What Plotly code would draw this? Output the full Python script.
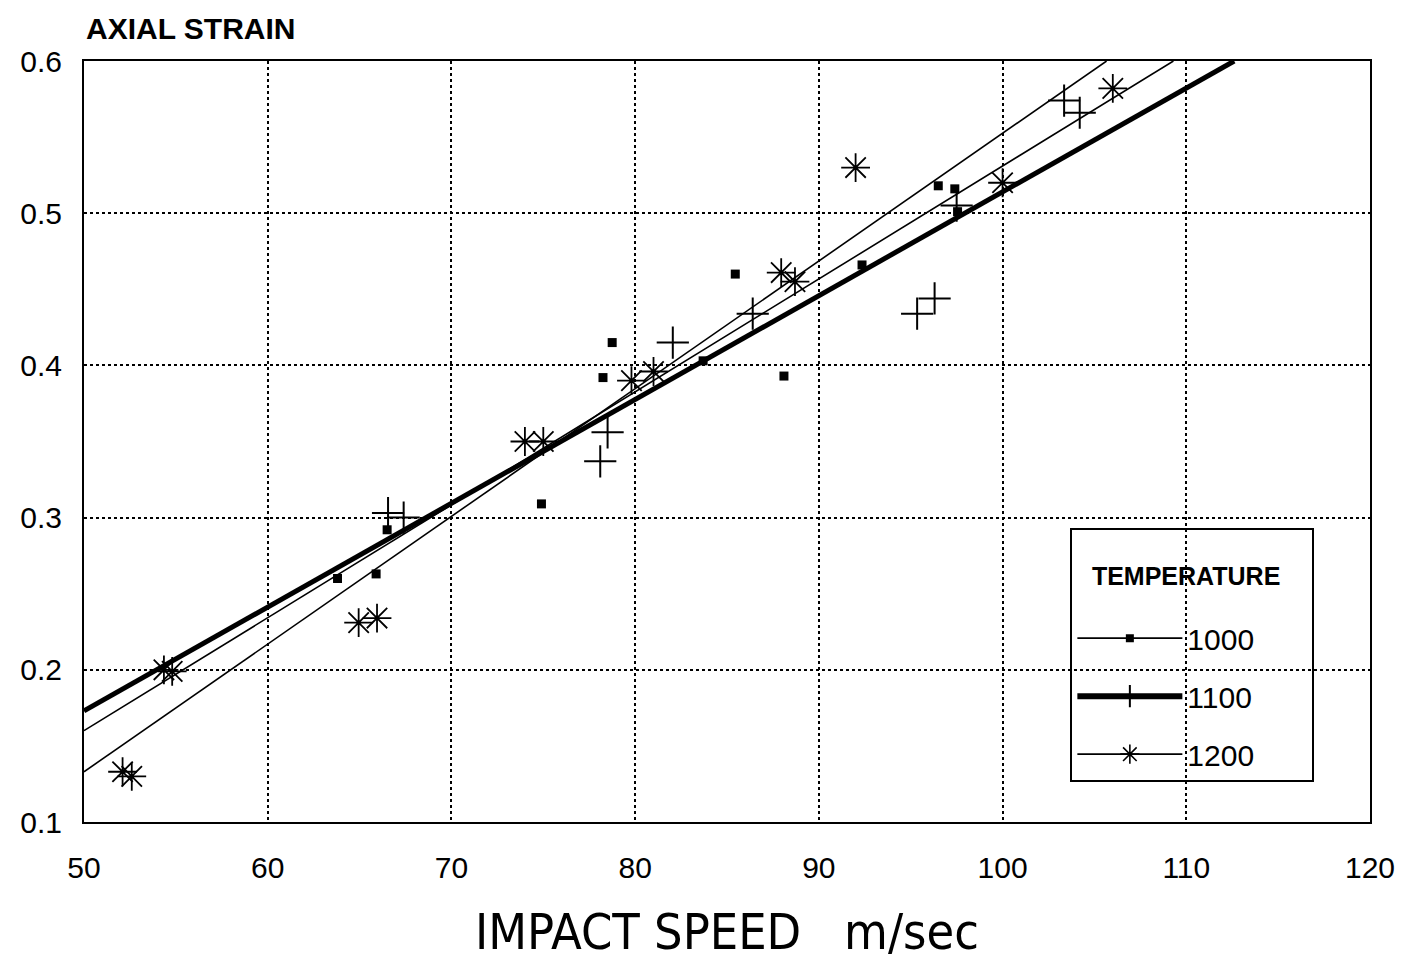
import plotly.graph_objects as go

# ---- data ----
temps = ["1000", "1100", "1200"]

speed_1000 = [63.8, 65.9, 66.5, 74.9, 78.25, 78.75, 83.7, 85.45, 88.1, 92.35, 96.5, 97.4, 97.55]
strain_1000 = [0.260, 0.263, 0.292, 0.309, 0.392, 0.415, 0.403, 0.460, 0.393, 0.466, 0.518, 0.516, 0.501]

speed_1100 = [66.55, 67.4, 78.1, 78.5, 82.05, 86.4, 95.35, 96.3, 97.5, 103.35, 104.2]
strain_1100 = [0.303, 0.300, 0.337, 0.356, 0.415, 0.434, 0.434, 0.444, 0.505, 0.574, 0.566]

speed_1200 = [52.1, 52.6, 54.35, 54.8, 64.95, 65.95, 74.0, 75.0, 79.8, 81.0, 87.95, 88.7, 92.0, 100.0, 106.0]
strain_1200 = [0.133, 0.130, 0.200, 0.199, 0.231, 0.234, 0.350, 0.350, 0.390, 0.396, 0.461, 0.455, 0.530, 0.520, 0.582]

# linear fits: strain = fit_at_50 + slope * (speed - 50)
fit_at_50 = [0.160, 0.173, 0.133]
fit_slope = [0.00742, 0.00682, 0.00839]

x_ticks = [50, 60, 70, 80, 90, 100, 110, 120]
y_ticks = [0.1, 0.2, 0.3, 0.4, 0.5, 0.6]
x_range = [50, 120]
y_range = [0.1, 0.6]

# ---- styles ----
line_widths = [1.6, 5, 1.6]
marker_styles = [
    dict(symbol="square", size=9, color="black"),
    dict(symbol="cross-thin-open", size=23, color="black", line=dict(width=2, color="black")),
    dict(symbol="asterisk-open", size=24, color="black", line=dict(width=1.8, color="black")),
]
legend_markers = [
    dict(symbol="square", size=8, color="black"),
    dict(symbol="cross-thin-open", size=22, color="black", line=dict(width=2, color="black")),
    dict(symbol="asterisk-open", size=20, color="black", line=dict(width=1.6, color="black")),
]

points = [(speed_1000, strain_1000), (speed_1100, strain_1100), (speed_1200, strain_1200)]

fig = go.Figure()

for i, t in enumerate(temps):
    b, m = fit_at_50[i], fit_slope[i]
    x_end = min(x_range[1], x_range[0] + (y_range[1] - b) / m)
    xs = [x_range[0], x_end]
    ys = [b + m * (x - x_range[0]) for x in xs]
    fig.add_trace(go.Scatter(x=xs, y=ys, mode="lines", line=dict(color="black", width=line_widths[i]),
                             showlegend=False, hoverinfo="skip", cliponaxis=True))

for i, t in enumerate(temps):
    xs, ys = points[i]
    fig.add_trace(go.Scatter(x=xs, y=ys, mode="markers", marker=marker_styles[i],
                             showlegend=False, name=t))

# legend entries
for i, t in enumerate(temps):
    fig.add_trace(go.Scatter(x=[None], y=[None], mode="lines+markers", name=t,
                             legendgroup=t,
                             line=dict(color="black", width=line_widths[i] if i != 1 else 6),
                             marker=legend_markers[i]))

font_family = "Liberation Sans, Arial, sans-serif"
title_family = "Liberation Sans Narrow, DejaVu Sans Condensed, Liberation Sans, sans-serif"

fig.update_layout(
    width=1419, height=965,
    margin=dict(l=84, r=49, t=61, b=143),
    paper_bgcolor="white", plot_bgcolor="white",
    font=dict(family=font_family, color="black"),
    xaxis=dict(range=x_range, tickvals=x_ticks, ticktext=[str(v) for v in x_ticks],
               showgrid=True, gridcolor="black", griddash="dot", gridwidth=2,
               zeroline=False, showline=True, linecolor="black", linewidth=2, mirror=True,
               ticks="", ticklabelstandoff=18, tickfont=dict(size=30, family=font_family),
               title=dict(text="IMPACT SPEED\u00a0\u00a0 m/sec", font=dict(size=50, family=title_family), standoff=31)),
    yaxis=dict(range=y_range, tickvals=y_ticks, ticktext=["0.1", "0.2", "0.3", "0.4", "0.5", "0.6"],
               showgrid=True, gridcolor="black", griddash="dot", gridwidth=2,
               zeroline=False, showline=True, linecolor="black", linewidth=2, mirror=True,
               ticks="", ticklabelstandoff=14, tickfont=dict(size=30, family=font_family)),
    legend=dict(x=0.767, y=0.386, xanchor="left", yanchor="top",
                bgcolor="rgba(0,0,0,0)", bordercolor="black", borderwidth=2,
                font=dict(size=30, family=font_family),
                itemwidth=105,
                title=dict(text="<br>\u00a0\u00a0\u00a0<span style='font-size:25px'><b>TEMPERATURE</b></span>\u00a0\u00a0\u00a0\u00a0\u00a0<br>\u00a0",
                           font=dict(size=21, family=font_family), side="top"),
                tracegroupgap=16, traceorder="grouped"),
    annotations=[dict(text="<b>AXIAL STRAIN</b>", xref="paper", yref="paper", x=0, y=1,
                      xanchor="left", yanchor="bottom", yshift=14, showarrow=False,
                      font=dict(size=30, family=font_family))],
)

fig.write_html("out.html")
